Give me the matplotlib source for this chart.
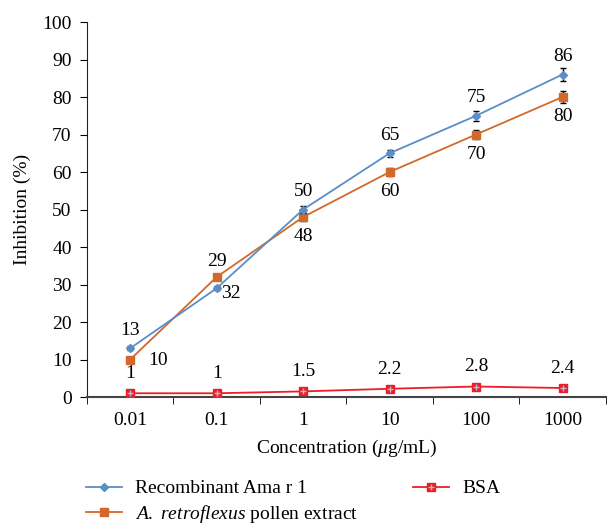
import numpy as np
import matplotlib
matplotlib.use('Agg')
import matplotlib.pyplot as plt
from matplotlib.legend_handler import HandlerTuple

plt.rcParams['font.family'] = 'Liberation Serif'
plt.rcParams['mathtext.fontset'] = 'custom'
plt.rcParams['mathtext.rm'] = 'Liberation Serif'
plt.rcParams['mathtext.it'] = 'Liberation Serif:italic'

# data
concentrations = ['0.01', '0.1', '1', '10', '100', '1000']
recombinant = [13, 29, 50, 65, 75, 86]
recombinant_err = [0.5, 0.5, 1.0, 1.0, 1.3, 1.8]
pollen = [10, 32, 48, 60, 70, 80]
pollen_err = [0.5, 0.5, 1.0, 1.0, 1.3, 1.6]
bsa = [1, 1, 1.5, 2.2, 2.8, 2.4]

blue = '#5b8ec5'
orange = '#d2692a'
red = '#ee1c25'

x = np.arange(len(concentrations))

fig = plt.figure(figsize=(6.1, 5.29), dpi=100)
ax = fig.add_axes([0.1426, 0.2495, 0.8504, 0.7089])

ax.errorbar(x, pollen, yerr=pollen_err, color=orange, marker='s', markersize=6,
            lw=1.3, ecolor='black', elinewidth=1, capsize=2.5, zorder=3)
ax.errorbar(x, recombinant, yerr=recombinant_err, color=blue, marker='D', markersize=4,
            lw=1.3, ecolor='black', elinewidth=1, capsize=2.5, zorder=4)
ax.plot(x, bsa, color=red, lw=1.3, marker='s', markersize=6,
        markerfacecolor=red, markeredgecolor=red, zorder=3)
ax.plot(x, bsa, ls='none', marker='+', markersize=5, color='#9ec3e6', mew=1, zorder=4)

fs = 14
# value labels
for i, v in enumerate(recombinant):
    if i == 1:
        # label sits above the orange point here
        ax.annotate(str(v), (x[i], pollen[i]), xytext=(0, 5), textcoords='offset points',
                    ha='center', va='bottom', fontsize=fs)
    else:
        ax.annotate(str(v), (x[i], v), xytext=(0, 7), textcoords='offset points',
                    ha='center', va='bottom', fontsize=fs)
for i, v in enumerate(pollen):
    if i == 0:
        ax.annotate(str(v), (x[i], v), xytext=(20, -1), textcoords='offset points',
                    ha='center', va='center', fontsize=fs)
    elif i == 1:
        ax.annotate(str(v), (x[i], recombinant[i]), xytext=(10, -4), textcoords='offset points',
                    ha='center', va='center', fontsize=fs)
    else:
        ax.annotate(str(v), (x[i], v), xytext=(0, -8), textcoords='offset points',
                    ha='center', va='top', fontsize=fs)
for i, v in enumerate(bsa):
    ax.annotate(str(v), (x[i], v), xytext=(0, 8), textcoords='offset points',
                ha='center', va='bottom', fontsize=fs)

ax.set_xlim(-0.5, len(x) - 0.5)
ax.set_ylim(0, 100)
ax.set_yticks(np.arange(0, 101, 10))
ax.set_xticks(x)
ax.set_xticklabels(concentrations)
ax.set_xticks(np.arange(-0.5, len(x), 1), minor=True)
ax.tick_params(axis='x', which='major', length=0, pad=11, labelsize=fs)
ax.tick_params(axis='x', which='minor', length=5, direction='out')
ax.tick_params(axis='y', length=5, direction='out', labelsize=fs, pad=6)
for s in ['top', 'right']:
    ax.spines[s].set_visible(False)
ax.spines['left'].set_color('#222222')
ax.spines['bottom'].set_color('#444444')
ax.spines['bottom'].set_linewidth(1.5)

ax.set_xlabel(r'Concentration ($\mu$g/mL)', fontsize=fs, labelpad=6)
ax.set_ylabel('Inhibition (%)', fontsize=fs, labelpad=8)

h1, = ax.plot([], [], color=blue, marker='D', markersize=4, lw=1.3)
h2, = ax.plot([], [], color=orange, marker='s', markersize=6, lw=1.3)
h3a, = ax.plot([], [], color=red, marker='s', markersize=6, lw=1.3)
h3b, = ax.plot([], [], ls='none', marker='+', markersize=5, color='#9ec3e6', mew=1)
fig.legend([h1, h2, (h3a, h3b)],
           ['Recombinant Ama r 1', r'$\it{A.\ retroflexus}$ pollen extract', 'BSA'],
           handler_map={tuple: HandlerTuple(ndivide=1, pad=0)},
           ncol=2, loc='upper left', bbox_to_anchor=(0.141, 0.093), frameon=False,
           fontsize=fs, handlelength=1.86, columnspacing=2.8, labelspacing=0.3,
           handletextpad=0.67, borderaxespad=0, borderpad=0)

fig.savefig('out.png', dpi=100)
